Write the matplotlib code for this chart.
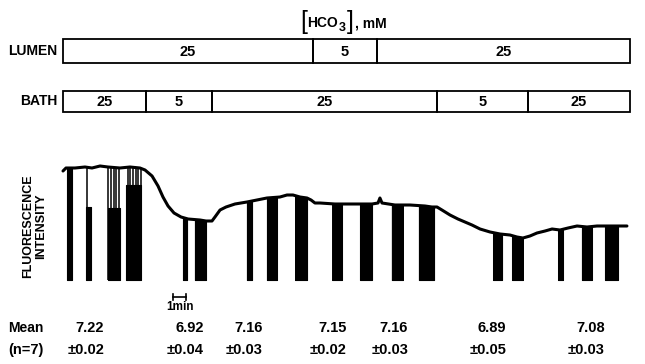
import numpy as np
import matplotlib
matplotlib.use("Agg")
import matplotlib.pyplot as plt
from matplotlib.patches import Rectangle

# ---- data -------------------------------------------------------------
# fluorescence trace: time (min) and relative intensity (a.u.)
trace_t = [0.00, 0.23, 0.92, 1.69, 2.23, 2.85, 3.46, 4.38, 5.15, 5.92, 6.31,
           6.85, 7.31, 7.69, 8.08, 8.54, 9.08, 9.62, 10.54, 11.00, 11.46,
           11.69, 12.08, 12.54, 13.23, 14.15, 14.92, 15.69, 16.69, 17.23,
           17.69, 18.23, 18.77, 19.08, 19.38, 19.77, 20.92, 22.08, 23.77,
           24.23, 24.38, 24.54, 25.54, 26.69, 27.85, 28.38, 28.77, 29.15,
           29.77, 30.38, 30.92, 31.46, 32.08, 32.85, 33.62, 34.38, 34.92,
           35.38, 35.92, 36.46, 37.08, 37.62, 38.23, 38.85, 39.54, 40.31,
           41.08, 42.08, 43.38]
trace_f = [1.09, 1.12, 1.12, 1.13, 1.12, 1.14, 1.13, 1.12, 1.13, 1.12, 1.10,
           1.04, 0.94, 0.83, 0.74, 0.67, 0.63, 0.61, 0.60, 0.59, 0.59,
           0.63, 0.70, 0.73, 0.76, 0.78, 0.80, 0.82, 0.83, 0.85,
           0.85, 0.83, 0.82, 0.80, 0.77, 0.77, 0.76, 0.76, 0.76,
           0.77, 0.82, 0.77, 0.75, 0.75, 0.74, 0.73, 0.73, 0.70,
           0.65, 0.61, 0.58, 0.55, 0.51, 0.48, 0.46, 0.45, 0.43,
           0.42, 0.44, 0.47, 0.49, 0.51, 0.50, 0.52, 0.54, 0.53,
           0.54, 0.54, 0.54]

# calibration periods (start, end, min) and level of the solid fill (None = up to trace)
dip_start = [0.31, 1.77, 3.46, 4.85, 9.23, 10.15, 14.15, 15.69, 17.85, 20.70,
             22.85, 25.30, 27.38, 33.08, 34.54, 38.08, 39.92, 41.69]
dip_end = [0.69, 2.15, 4.38, 6.00, 9.54, 11.00, 14.54, 16.46, 18.77, 21.46,
           23.77, 26.15, 28.54, 33.77, 35.38, 38.46, 40.69, 42.69]
dip_fill = [None, 0.73, 0.72, 0.95, None, None, None, None, None, None,
            None, None, None, None, None, None, None, None]
# single excitation switches drawn as thin strokes
stroke_t = [1.85, 3.48, 3.69, 3.90, 4.10, 4.31, 4.97, 5.18, 5.38, 5.59, 5.79, 6.00]

# solution changes (min) and bicarbonate concentrations (mM)
lumen_edges = [0.0, 19.23, 24.15, 43.6]
lumen_conc = ["25", "5", "25"]
bath_edges = [0.0, 6.38, 11.46, 28.77, 35.77, 43.6]
bath_conc = ["25", "5", "25", "5", "25"]

# mean intracellular pH values
mean_ph = ["7.22", "6.92", "7.16", "7.15", "7.16", "6.89", "7.08"]
sem_ph = ["\u00b10.02", "\u00b10.04", "\u00b10.03", "\u00b10.02", "\u00b10.03", "\u00b10.05", "\u00b10.03"]

# ---- figure -----------------------------------------------------------
W, H = 645, 364
fig = plt.figure(figsize=(W / 100, H / 100), dpi=100)
FONT = "Liberation Sans"

def fxy(x, y):
    return x / W, 1 - y / H

t0, t1 = -63 / 13, 582 / 13

# overlay axes: time horizontally, pixels vertically (top = 0)
ov = fig.add_axes([0, 0, 1, 1])
ov.set_xlim(t0, t1)
ov.set_ylim(H, 0)
ov.axis("off")

# trace axes
ax = fig.add_axes([0, 1 - 290 / H, 1, 140 / H])
ax.set_xlim(t0, t1)
ax.set_ylim(-0.10, 1.30)
ax.axis("off")

tt = np.array(trace_t)
ff = np.array(trace_f)
ax.plot(tt, ff, color="black", lw=2.2, solid_capstyle="round", zorder=3)

for s, e, lvl in zip(dip_start, dip_end, dip_fill):
    xs = np.linspace(s, e, 20)
    top = np.interp(xs, tt, ff) if lvl is None else np.full_like(xs, lvl)
    ax.fill_between(xs, 0, top, color="black", lw=0.8, edgecolor="black", zorder=2)
for s in stroke_t:
    ax.vlines(s, 0, np.interp(s, tt, ff), color="black", lw=1.1, zorder=2)

# solution boxes
def draw_row(edges, labels, ytop, h):
    for a, b, lab in zip(edges[:-1], edges[1:], labels):
        ov.add_patch(Rectangle((a, ytop), b - a, h, fill=False, ec="black", lw=1.3))
        ov.text((a + b) / 2, ytop + h / 2 + 0.5, lab, ha="center", va="center",
                fontsize=10.5, fontweight="bold", family=FONT)

draw_row(lumen_edges, lumen_conc, 39, 24)
draw_row(bath_edges, bath_conc, 91, 21)

fig.text(*fxy(57, 51), "LUMEN", ha="right", va="center", fontsize=10,
         fontweight="bold", family=FONT)
fig.text(*fxy(57, 101), "BATH", ha="right", va="center", fontsize=10,
         fontweight="bold", family=FONT)

# [HCO3], mM heading
fig.text(*fxy(300, 22), "[", ha="left", va="center", fontsize=18, family=FONT)
fig.text(*fxy(307, 23), "HCO", ha="left", va="center", fontsize=10,
         fontweight="bold", family=FONT)
fig.text(*fxy(339, 28), "3", ha="left", va="center", fontsize=9,
         fontweight="bold", family=FONT)
fig.text(*fxy(347, 22), "]", ha="left", va="center", fontsize=18, family=FONT)
fig.text(*fxy(355, 24), ", mM", ha="left", va="center", fontsize=10,
         fontweight="bold", family=FONT)

# y label
fig.text(*fxy(28, 226), "FLUORESCENCE", rotation=90, ha="center", va="center",
         fontsize=9, fontweight="bold", family=FONT)
fig.text(*fxy(41, 226), "INTENSITY", rotation=90, ha="center", va="center",
         fontsize=9, fontweight="bold", family=FONT)

# 1 min scale bar
sb = 8.46
ov.plot([sb, sb + 1], [297, 297], color="black", lw=1.2)
ov.plot([sb, sb], [294, 300], color="black", lw=1.2)
ov.plot([sb + 1, sb + 1], [294, 300], color="black", lw=1.2)
fig.text(*fxy(180, 307), "1min", ha="center", va="center", fontsize=8.5,
         fontweight="bold", family=FONT)

# mean pH rows
fig.text(*fxy(8, 328), "Mean", ha="left", va="center", fontsize=10,
         fontweight="bold", family=FONT)
fig.text(*fxy(8, 350), "(n=7)", ha="left", va="center", fontsize=10.5,
         fontweight="bold", family=FONT)
val_right = [104, 204, 263, 347, 408, 506, 605]
for xr, m, s in zip(val_right, mean_ph, sem_ph):
    fig.text(*fxy(xr, 328), m, ha="right", va="center", fontsize=10.5,
             fontweight="bold", family=FONT)
    fig.text(*fxy(xr, 350), s, ha="right", va="center", fontsize=10.5,
             fontweight="bold", family=FONT)

fig.savefig("out.png", dpi=100, facecolor="white")
